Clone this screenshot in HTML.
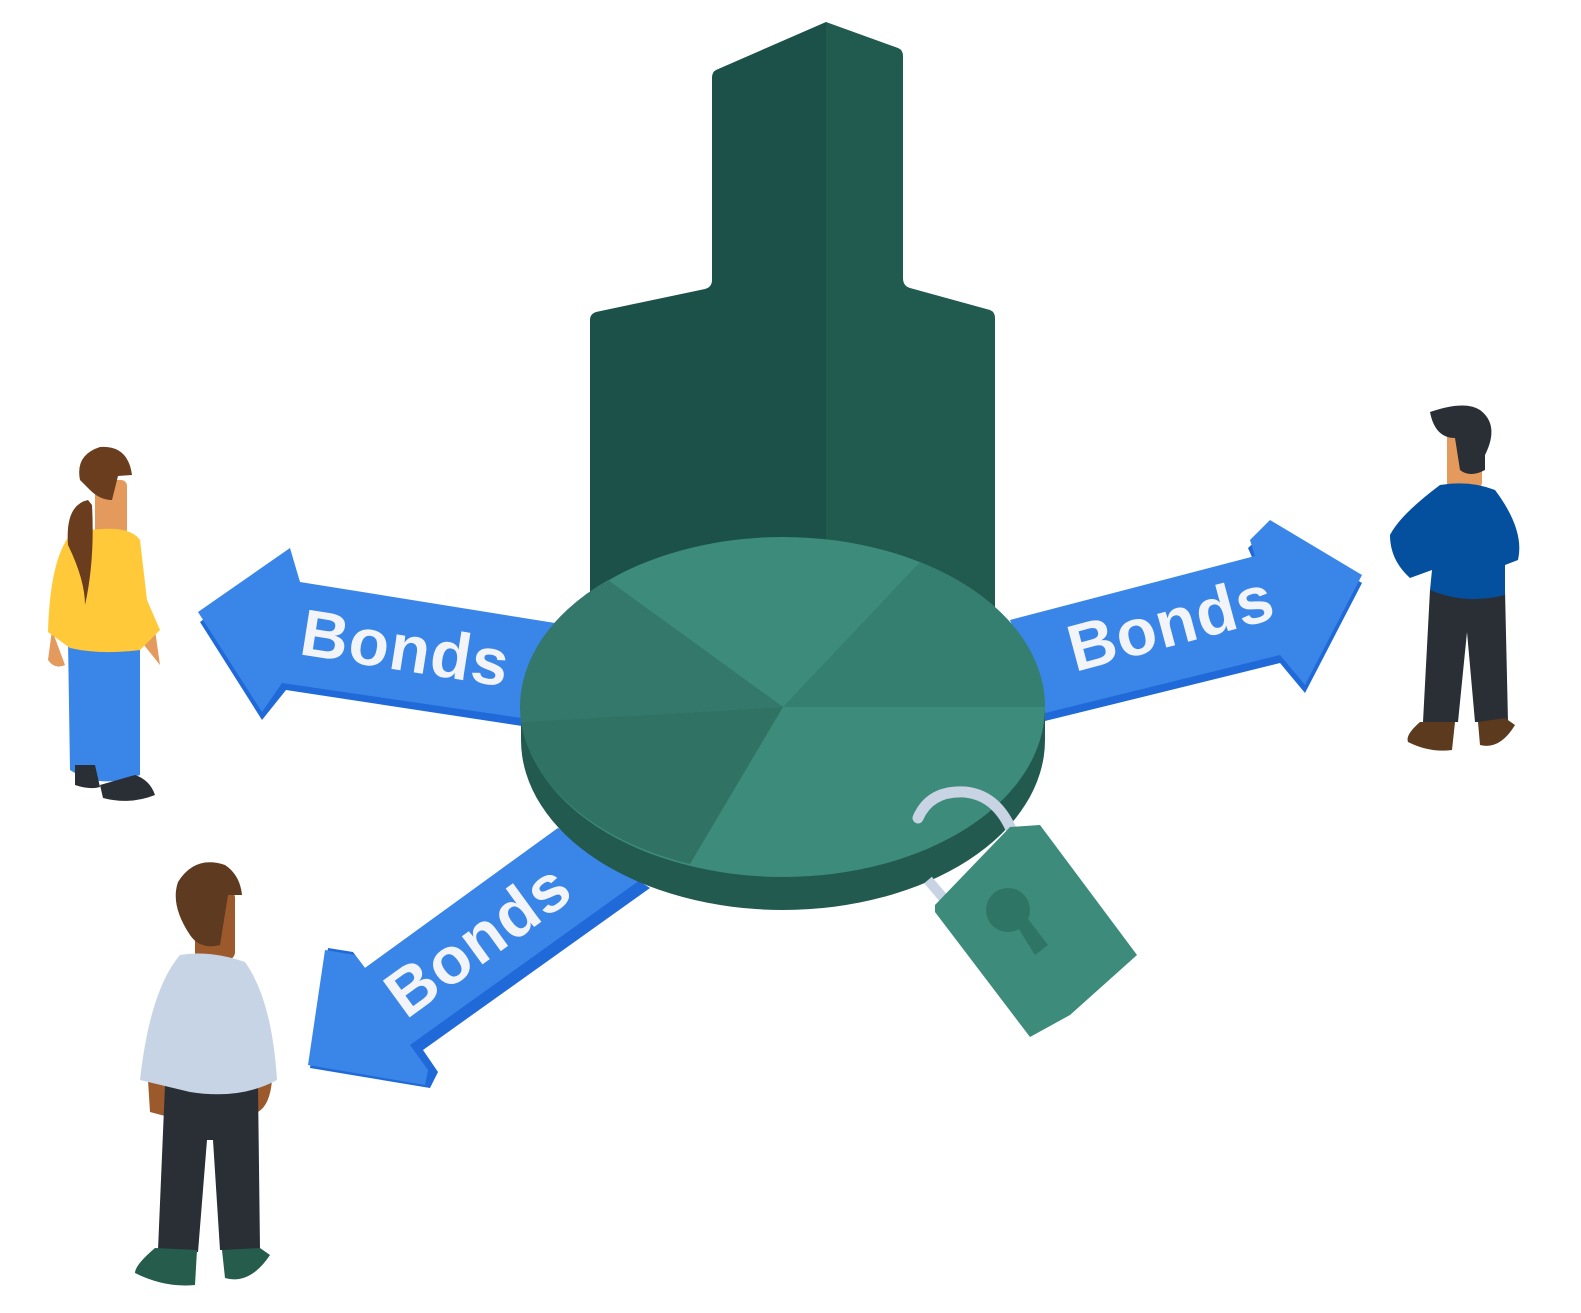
<!DOCTYPE html>
<html><head><meta charset="utf-8"><style>
html,body{margin:0;padding:0;background:#fff;width:1581px;height:1313px;overflow:hidden}
svg{display:block}
text{font-family:"Liberation Sans",sans-serif;font-weight:bold;fill:#f2f4f8}
</style></head><body>
<svg width="1581" height="1313" viewBox="0 0 1581 1313" xmlns="http://www.w3.org/2000/svg">
<path d="M826,22 L716,70 Q712,72 712,78 L712,280 Q712,287 705,289 L596,312 Q590,314 590,320 L590,620 L826,620 Z" fill="#1b5149"/>
<path d="M826,22 L898,48 Q903,50 903,56 L903,278 Q903,286 910,288 L990,310 Q995,312 995,318 L995,620 L826,620 Z" fill="#215b50"/>
<polygon points="300,590 292,556 200,622 262,720 286,690 522,726 555,631" fill="#1f6ad8"/>
<polygon points="300,582 290,548 198,612 262,712 282,683 522,718 555,623" fill="#3a86e8"/>
<text x="0" y="0" font-size="66" letter-spacing="1" transform="translate(298,654) rotate(9)">Bonds</text>
<polygon points="1010,628 1255,564 1248,548 1270,528 1362,583 1305,693 1280,663 1045,721" fill="#1f6ad8"/>
<polygon points="1010,620 1255,556 1250,540 1270,520 1362,575 1305,685 1280,655 1045,713" fill="#3a86e8"/>
<text x="0" y="0" font-size="66" letter-spacing="1" transform="translate(1075,672) rotate(-15)">Bonds</text>
<polygon points="558,828 365,968 353,952 328,948 310,1068 430,1088 438,1072 423,1050 650,888" fill="#1f6ad8"/>
<polygon points="558,828 365,968 355,955 325,950 308,1065 425,1085 428,1070 410,1045 640,880" fill="#3a86e8"/>
<text x="0" y="0" font-size="66" letter-spacing="1" transform="translate(406,1020) rotate(-36)">Bonds</text>
<ellipse cx="783" cy="740" rx="262" ry="170" fill="#225a4f"/>
<rect x="521" y="707" width="524" height="33" fill="#225a4f"/>
<ellipse cx="783" cy="707" rx="262" ry="170" fill="#3c8b7b"/>
<path d="M783,707 L920,562 A262,170 0 0 1 1045,707 Z" fill="#357f70"/>
<path d="M783,707 L690,864 A262,170 0 0 1 521,722 Z" fill="#307364"/>
<path d="M783,707 L521,722 A262,170 0 0 1 608,580 Z" fill="#33786a"/>
<path d="M918,818 Q930,790 965,792 Q995,795 1010,827" stroke="#c8d3e3" stroke-width="11" fill="none" stroke-linecap="round"/>
<line x1="928" y1="880" x2="945" y2="900" stroke="#c8d3e3" stroke-width="10"/>
<polygon points="935,905 1010,827 1040,825 1137,955 1070,1015 1030,1037 935,912" fill="#3c8b7b"/>
<circle cx="1008" cy="910" r="22" fill="#2f7566"/>
<path d="M1010,915 L1035,955 L1048,945 L1025,915 Z" fill="#2f7566"/>
<!-- woman -->
<path d="M52,630 L48,660 Q55,670 65,665 Z" fill="#e49a5c"/>
<path d="M140,640 L160,665 L155,630 Z" fill="#e49a5c"/>
<rect x="95" y="480" width="32" height="55" fill="#e49a5c" rx="6"/>
<path d="M68,640 L70,770 Q100,790 140,775 L140,640 Z" fill="#3a86e8"/>
<path d="M90,530 Q130,525 140,540 L147,600 L160,630 L140,650 Q100,655 70,648 L48,632 Q50,560 70,535 Z" fill="#ffc93a"/>
<path d="M75,765 L75,785 Q90,790 100,787 L95,765 Z M100,785 L103,798 Q130,805 155,795 Q150,780 135,775 Z" fill="#2a2e35"/>
<path d="M80,480 Q75,455 100,447 Q128,445 132,475 L118,476 L112,500 Q100,500 90,490 Z" fill="#6a3d1e"/>
<path d="M88,500 Q65,505 68,545 Q85,580 85,605 Q95,560 92,505 Z" fill="#6a3d1e"/>
<!-- man right -->
<rect x="1447" y="430" width="35" height="60" fill="#e49a5c" rx="8"/>
<path d="M1430,412 Q1465,400 1480,410 Q1500,425 1485,455 L1485,470 Q1470,478 1460,470 L1455,438 Q1435,438 1430,412 Z" fill="#2a2e35"/>
<path d="M1430,590 L1423,722 L1458,722 L1467,632 L1475,722 L1508,722 L1505,590 Z" fill="#2a2e35"/>
<path d="M1420,722 Q1405,735 1408,742 Q1430,753 1452,750 L1455,722 Z M1478,722 L1480,745 Q1500,750 1515,725 L1505,718 Z" fill="#5c3a1e"/>
<path d="M1440,485 Q1470,480 1495,490 Q1525,530 1518,560 L1505,565 L1505,595 Q1465,605 1430,590 L1432,570 L1410,578 Q1390,560 1390,535 Q1400,515 1440,485 Z" fill="#05509e"/>
<!-- man bottom -->
<path d="M148,1080 L150,1112 L165,1116 L165,1080 Z M258,1080 L258,1112 Q270,1105 272,1080 Z" fill="#9c5a2c"/>
<rect x="195" y="890" width="40" height="70" fill="#9c5a2c" rx="8"/>
<path d="M190,935 Q170,905 178,882 Q195,855 225,865 Q240,875 242,895 L228,895 L220,945 Q200,950 190,935 Z" fill="#5e3a20"/>
<path d="M165,1085 L158,1250 L198,1252 L207,1140 L213,1140 L220,1250 L260,1250 L258,1085 Z" fill="#2a2e35"/>
<path d="M155,1248 Q135,1265 135,1273 Q165,1288 195,1285 L197,1250 Z M222,1250 L225,1278 Q250,1285 270,1255 L260,1248 Z" fill="#255c4c"/>
<path d="M180,955 Q210,950 245,962 Q272,1000 277,1080 Q240,1100 190,1092 L140,1080 Q150,990 180,955 Z" fill="#c7d4e5"/>
</svg>
</body></html>
